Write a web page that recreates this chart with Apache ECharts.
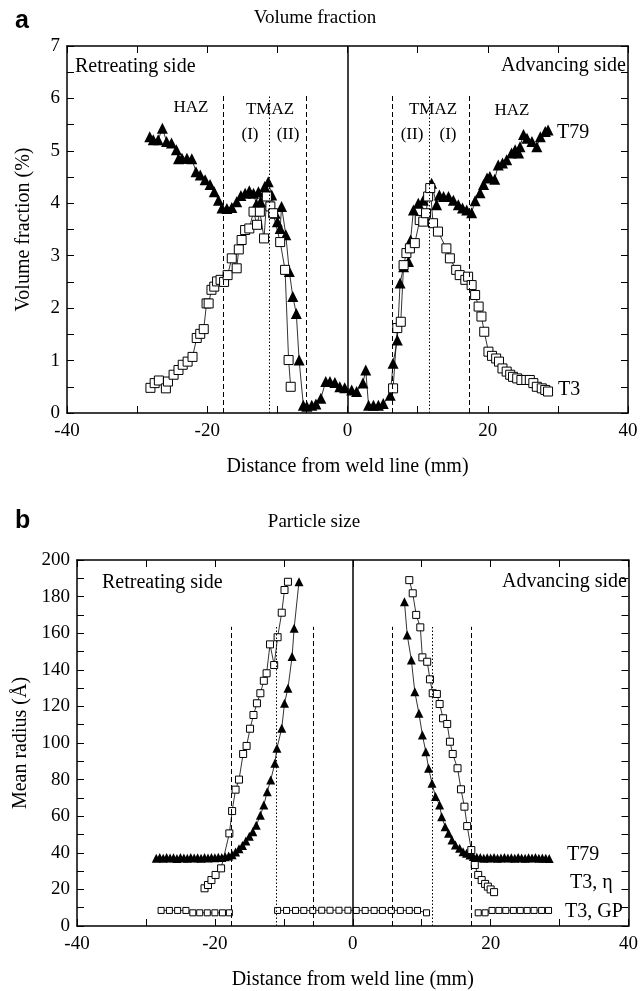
<!DOCTYPE html>
<html><head><meta charset="utf-8">
<script src="https://cdn.jsdelivr.net/npm/echarts@6/dist/echarts.min.js"></script>
<style>html,body{margin:0;padding:0;background:#fff}#c{width:641px;height:991px}</style>
</head><body><div id="c"></div>
<script>
// ---------- DATA ----------
// Panel a: volume fraction (%) vs distance (mm)
const volT79 = [
[-28.2,5.27],[-27.7,5.21],[-27.0,5.21],[-26.4,5.43],[-25.8,5.18],[-25.1,5.15],[-24.4,5.02],[-24.1,4.85],[-23.6,4.86],[-22.9,4.86],[-22.2,4.85],[-21.6,4.60],[-21.0,4.54],[-20.3,4.45],[-19.6,4.36],[-19.0,4.22],[-18.4,4.06],[-17.9,3.91],[-17.2,3.90],[-16.5,3.92],[-15.8,4.03],[-15.2,4.15],[-14.6,4.19],[-14.0,4.24],[-13.4,4.19],[-13.0,3.98],[-12.7,4.22],[-12.4,4.03],[-11.8,4.32],[-11.3,4.41],[-10.8,4.16],[-10.3,3.81],[-10.0,3.65],[-9.6,3.52],[-9.4,3.94],[-8.8,3.40],[-8.3,2.70],[-7.8,2.22],[-7.3,1.90],[-6.9,1.01],[-6.3,0.15],[-5.8,0.13],[-5.1,0.15],[-4.5,0.17],[-3.8,0.28],[-3.1,0.60],[-2.5,0.60],[-1.8,0.58],[-1.1,0.50],[-0.4,0.48],[0.6,0.44],[1.3,0.41],[2.2,0.57],[2.6,0.82],[3.0,0.15],[3.7,0.15],[4.4,0.15],[5.1,0.18],[6.1,0.34],[6.5,0.95],[7.1,1.39],[7.5,2.48],[8.0,2.79],[8.7,2.89],[9.0,3.30],[9.4,3.87],[10.1,4.00],[10.8,4.06],[11.4,4.19],[12.0,4.38],[12.7,3.97],[13.1,4.16],[13.7,4.13],[14.4,4.13],[15.1,4.06],[15.8,3.97],[16.4,3.91],[17.0,3.87],[17.7,3.82],[18.2,4.05],[18.9,4.20],[19.4,4.36],[19.9,4.48],[20.3,4.51],[21.0,4.46],[21.5,4.73],[22.1,4.77],[22.7,4.83],[23.4,4.96],[23.9,5.02],[24.4,4.96],[24.6,5.08],[25.1,5.31],[25.6,5.24],[26.3,5.18],[27.0,5.08],[27.5,5.27],[28.2,5.37],[28.6,5.40]
];
const volT3Left = [
[-28.1,0.48],[-27.5,0.57],[-26.9,0.62],[-25.9,0.47],[-25.6,0.60],[-24.8,0.73],[-24.1,0.82],[-23.5,0.92],[-22.8,0.98],[-22.1,1.07],[-21.5,1.43],[-21.0,1.51],[-20.5,1.60],[-20.1,2.09],[-19.8,2.09],[-19.4,2.35],[-19.0,2.41],[-18.6,2.51],[-18.1,2.54],[-17.6,2.50],[-17.1,2.63],[-16.5,2.95],[-15.8,2.76],[-15.5,3.12],[-15.1,3.30],[-14.6,3.49],[-14.0,3.52],[-13.4,3.84],[-12.9,3.59],[-12.5,3.84],[-11.9,3.33],[-11.5,4.13],[-11.0,3.94],[-10.6,3.81],[-9.6,3.26],[-8.9,2.73],[-8.4,1.01],[-8.1,0.50]
];
const volT3Right = [
[6.5,0.47],[7.1,1.62],[7.6,1.74],[8.0,2.82],[8.4,3.05],[8.9,3.14],[9.6,3.24],[10.3,3.68],[10.8,3.65],[11.2,3.81],[11.5,4.13],[11.8,4.29],[12.2,3.62],[12.9,3.46],[14.1,3.14],[14.6,2.95],[15.5,2.73],[16.0,2.63],[16.8,2.54],[17.2,2.60],[17.7,2.44],[18.2,2.25],[18.7,2.03],[19.1,1.84],[19.5,1.55],[20.1,1.17],[20.6,1.09],[21.2,1.04],[21.6,0.98],[22.1,0.85],[22.7,0.79],[23.2,0.73],[23.6,0.69],[24.2,0.66],[24.8,0.63],[25.5,0.63],[26.0,0.63],[26.5,0.57],[27.0,0.50],[27.7,0.47],[28.2,0.44],[28.6,0.41]
];
// Panel b: mean radius (Å) vs distance (mm)
const radT79Left = [
[-28.5,37.0],[-28.0,37.4],[-27.5,37.0],[-27.0,37.5],[-26.5,37.1],[-26.0,37.3],[-25.5,36.9],[-25.0,37.4],[-24.5,37.2],[-24.0,37.0],[-23.5,37.5],[-23.0,37.1],[-22.5,37.3],[-22.0,37.0],[-21.5,37.4],[-21.0,37.2],[-20.5,37.5],[-20.0,37.3],[-19.5,37.6],[-19.0,37.4],[-18.5,37.8],[-18.0,38.2],[-17.5,39.0],[-17.0,40.4],[-16.5,42.2],[-16.0,44.0],[-15.5,46.5],[-15.0,49.0],[-14.5,51.5],[-14.0,55.0],[-13.4,60.5],[-12.9,66.1],[-12.4,73.4],[-11.9,79.8],[-11.3,88.9],[-11.0,97.1],[-10.3,108.0],[-9.9,121.7],[-9.4,129.9],[-8.8,147.2],[-8.5,162.7],[-7.8,188.1]
];
const radT79Right = [
[7.5,177.2],[7.9,159.0],[8.5,145.4],[9.0,128.0],[9.6,116.2],[10.1,104.4],[10.6,95.2],[11.0,86.2],[11.5,78.0],[12.0,70.7],[12.6,66.1],[12.9,59.7],[13.4,54.3],[13.9,50.7],[14.4,47.0],[14.9,44.3],[15.5,42.5],[16.0,40.6],[16.5,39.7],[17.0,38.8],[17.5,38.0],[18.0,37.6],[18.5,37.4],[19.0,37.0],[19.5,37.3],[20.0,37.1],[20.5,37.4],[21.0,37.0],[21.5,37.2],[22.0,37.5],[22.5,37.1],[23.0,37.3],[23.5,37.0],[24.0,37.4],[24.5,37.2],[25.0,37.0],[25.5,37.3],[26.0,37.1],[26.5,37.4],[27.0,37.0],[27.5,37.2],[28.0,37.0],[28.5,36.9]
];
const radT3EtaLeft = [
[-21.5,20.6],[-21.0,22.4],[-20.5,25.1],[-19.9,27.9],[-19.1,31.5],[-17.9,50.6],[-17.5,62.8],[-17.0,74.5],[-16.5,80.0],[-15.9,94.0],[-15.4,98.4],[-14.9,107.8],[-14.4,115.3],[-13.9,121.7],[-13.4,127.2],[-12.9,134.0],[-12.5,138.1],[-12.0,153.9],[-11.4,142.6],[-10.9,157.8],[-10.3,171.2],[-9.9,183.6],[-9.4,188.1]
];
const radT3EtaRight = [
[8.2,189.0],[8.7,181.8],[9.2,170.0],[9.8,163.2],[10.1,146.8],[10.8,144.4],[11.2,134.8],[11.6,127.2],[12.2,126.8],[12.6,121.3],[13.1,113.5],[13.7,110.4],[14.1,100.7],[14.5,94.0],[15.2,86.2],[15.7,74.7],[16.2,65.2],[16.6,54.6],[17.2,41.5],[17.7,33.3],[18.2,27.9],[18.7,25.1],[19.2,23.0],[19.6,21.5],[20.0,20.0],[20.5,18.5]
];
const radT3GP1 = [[-27.8,8.5],[-26.6,8.5],[-25.4,8.5],[-24.2,8.5],[-23.2,7.2],[-22.2,7.2],[-21.1,7.2],[-20.0,7.2],[-18.9,7.2],[-17.9,7.2]];
const radT3GP2 = [[-10.9,8.5],[-9.6,8.5],[-8.3,8.5],[-7.1,8.5],[-5.8,8.5],[-4.5,8.6],[-3.3,8.6],[-2.0,8.6],[-0.7,8.6],[0.5,8.5],[1.8,8.5],[3.1,8.5],[4.3,8.5],[5.6,8.5],[6.9,8.5],[8.2,8.5],[9.4,8.5],[10.7,7.2]];
const radT3GP3 = [[18.2,7.2],[19.2,7.2],[20.2,8.5],[21.2,8.5],[22.2,8.5],[23.3,8.5],[24.3,8.5],[25.3,8.5],[26.3,8.5],[27.4,8.5],[28.4,8.5]];

// zone boundaries (mm) and the height they reach
const volDashed = [-17.7, -5.9, 6.4, 17.3];
const volDotted = [-11.2, 11.6];
const volZoneTop = 6.05;
const radDashed = [-17.6, -5.8, 5.7, 17.2];
const radDotted = [-11.1, 11.5];
const radZoneTop = 163.5;

const xTicks = {min: -40, max: 40, step: 10, labelStep: 20};
const volTicks = {min: 0, max: 7, step: 0.5, labelStep: 1};
const radTicks = {min: 0, max: 200, step: 10, labelStep: 20};

// ---------- CHART ----------
const SERIF = '"Liberation Serif","Times New Roman",serif';
const chart = echarts.init(document.getElementById('c'), null, {renderer: 'canvas'});

function xAx(grid, pos, show) {
  return {
    gridIndex: grid, type: 'value', position: pos,
    min: xTicks.min, max: xTicks.max, interval: xTicks.step,
    axisLine: {onZero: false, lineStyle: {color: '#000', width: 1.5}},
    axisTick: {inside: true, length: 7, lineStyle: {color: '#000', width: 1}},
    axisLabel: {show: show, color: '#000', fontFamily: SERIF, fontSize: 19, margin: 9,
      formatter: v => (Math.abs(v % xTicks.labelStep) < 1e-9 ? String(v) : '')},
    splitLine: {show: false},
    name: show ? 'Distance from weld line (mm)' : '',
    nameLocation: 'middle', nameGap: 44,
    nameTextStyle: {color: '#000', fontFamily: SERIF, fontSize: 20}
  };
}
function yAx(grid, pos, show, t, name, gap) {
  return {
    gridIndex: grid, type: 'value', position: pos,
    min: t.min, max: t.max, interval: t.step,
    axisLine: {onZero: false, lineStyle: {color: '#000', width: 1.5}},
    axisTick: {inside: true, length: 7, lineStyle: {color: '#000', width: 1}},
    axisLabel: {show: show, color: '#000', fontFamily: SERIF, fontSize: 19, margin: 7,
      formatter: v => (Math.abs(v / t.labelStep - Math.round(v / t.labelStep)) < 1e-9 ? String(v) : '')},
    splitLine: {show: false},
    name: show ? name : '', nameLocation: 'middle', nameGap: gap,
    nameTextStyle: {color: '#000', fontFamily: SERIF, fontSize: 20}
  };
}
function lineSeries(data, xi, yi, kind, size) {
  const tri = kind === 'tri';
  return {
    type: 'line', xAxisIndex: xi, yAxisIndex: yi, data: data,
    symbol: tri ? 'triangle' : 'rect', symbolSize: size, showAllSymbol: true,
    itemStyle: tri ? {color: '#000'} : {color: '#fff', borderColor: '#000', borderWidth: 1},
    lineStyle: {color: '#000', width: 0.8},
    animation: false, silent: true, z: tri ? 3 : 4
  };
}
function zoneLines(dashed, dotted, top) {
  const d = [{xAxis: 0, lineStyle: {type: 'solid', width: 1.5, color: '#000'}}];
  dashed.forEach(x => d.push([{coord: [x, 0], lineStyle: {type: [5, 3], width: 1, color: '#000'}}, {coord: [x, top]}]));
  dotted.forEach(x => d.push([{coord: [x, 0], lineStyle: {type: [1.5, 2], width: 1, color: '#000'}}, {coord: [x, top]}]));
  return {silent: true, symbol: ['none', 'none'], label: {show: false}, animation: false, data: d};
}
function txt(x, y, s, opt) {
  opt = opt || {};
  return {type: 'text', x: x, y: y, silent: true, z: 100,
    style: {text: s, fill: '#000', font: opt.font || ('20px ' + SERIF),
      textAlign: opt.align || 'left', textVerticalAlign: 'middle'}};
}

const s1 = lineSeries(volT79, 0, 0, 'tri', 11);
s1.markLine = zoneLines(volDashed, volDotted, volZoneTop);
const s4 = lineSeries(radT79Left, 2, 2, 'tri', 9);
s4.markLine = zoneLines(radDashed, radDotted, radZoneTop);

const option = {
  backgroundColor: '#fff',
  animation: false,
  grid: [
    {left: 67, top: 46, width: 561, height: 367},
    {left: 77, top: 560, width: 561, height: 366}
  ],
  xAxis: [xAx(0, 'bottom', true), xAx(0, 'top', false), xAx(1, 'bottom', true), xAx(1, 'top', false)],
  yAxis: [
    yAx(0, 'left', true, volTicks, 'Volume fraction (%)', 33),
    yAx(0, 'right', false, volTicks, '', 0),
    yAx(1, 'left', true, radTicks, 'Mean radius (Å)', 46),
    yAx(1, 'right', false, radTicks, '', 0)
  ],
  series: [
    s1,
    lineSeries(volT3Left, 0, 0, 'sq', 9),
    lineSeries(volT3Right, 0, 0, 'sq', 9),
    s4,
    lineSeries(radT79Right, 2, 2, 'tri', 9),
    lineSeries(radT3EtaLeft, 2, 2, 'sq', 7),
    lineSeries(radT3EtaRight, 2, 2, 'sq', 7),
    lineSeries(radT3GP1, 2, 2, 'sq', 6),
    lineSeries(radT3GP2, 2, 2, 'sq', 6),
    lineSeries(radT3GP3, 2, 2, 'sq', 6)
  ],
  graphic: [
    txt(15, 21, 'a', {font: 'bold 25px "Liberation Sans", Arial, sans-serif'}),
    txt(315, 18, 'Volume fraction', {align: 'center', font: '19px ' + SERIF}),
    txt(75, 67, 'Retreating side'),
    txt(626, 66, 'Advancing side', {align: 'right'}),
    txt(191, 108, 'HAZ', {align: 'center', font: '17px ' + SERIF}),
    txt(270, 110, 'TMAZ', {align: 'center', font: '17px ' + SERIF}),
    txt(250, 135, '(I)', {align: 'center', font: '17px ' + SERIF}),
    txt(288, 135, '(II)', {align: 'center', font: '17px ' + SERIF}),
    txt(433, 110, 'TMAZ', {align: 'center', font: '17px ' + SERIF}),
    txt(412, 135, '(II)', {align: 'center', font: '17px ' + SERIF}),
    txt(448, 135, '(I)', {align: 'center', font: '17px ' + SERIF}),
    txt(512, 111, 'HAZ', {align: 'center', font: '17px ' + SERIF}),
    txt(557, 133, 'T79'),
    txt(558, 390, 'T3'),
    txt(15, 521, 'b', {font: 'bold 25px "Liberation Sans", Arial, sans-serif'}),
    txt(314, 522, 'Particle size', {align: 'center', font: '19px ' + SERIF}),
    txt(102, 583, 'Retreating side'),
    txt(627, 582, 'Advancing side', {align: 'right'}),
    txt(567, 855, 'T79'),
    txt(570, 883, 'T3, η'),
    txt(565, 912, 'T3, GP')
  ]
};
chart.setOption(option);
</script>
</body></html>
